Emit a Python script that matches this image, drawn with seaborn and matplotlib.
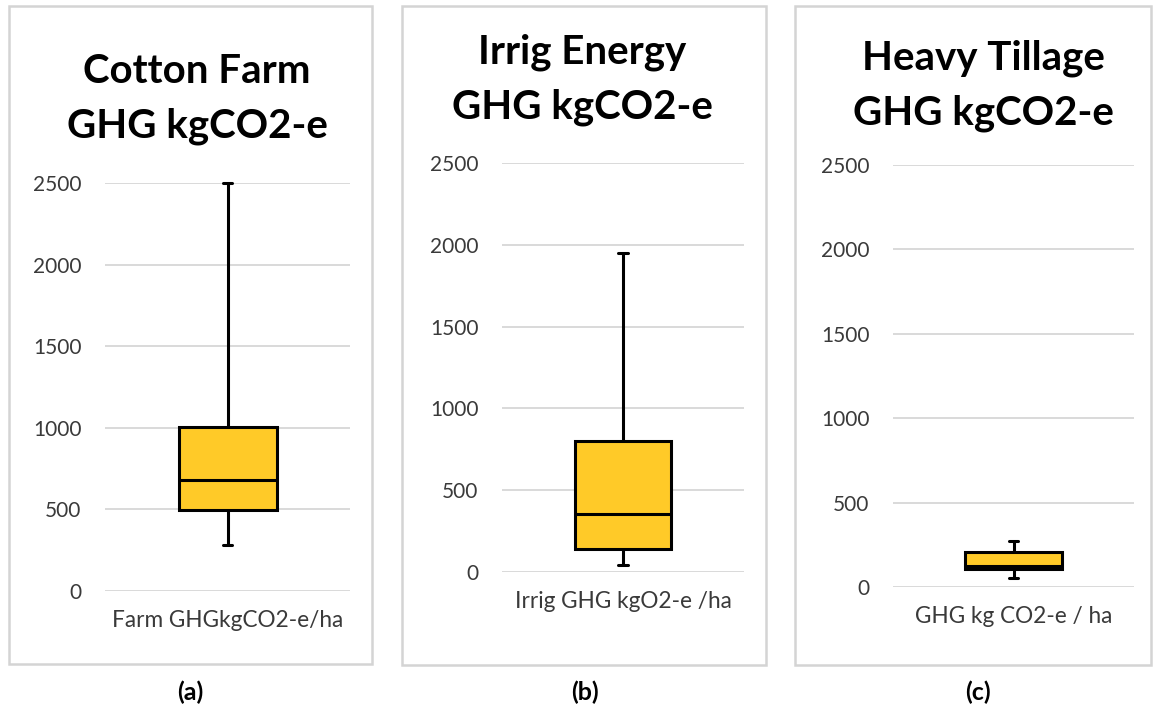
import matplotlib
matplotlib.use("Agg")
import matplotlib.pyplot as plt
import seaborn as sns
import pandas as pd
from matplotlib.patches import Rectangle

# ---- data ----
titles = ["Cotton Farm\nGHG kgCO2-e", "Irrig Energy\nGHG kgCO2-e", "Heavy Tillage\nGHG kgCO2-e"]
categories = ["Farm GHGkgCO2-e/ha", "Irrig GHG kgO2-e /ha", "GHG kg CO2-e / ha"]
tags = ["(a)", "(b)", "(c)"]
whisker_low = [280, 42, 54]
quartile1 = [495, 140, 107]
median = [680, 354, 125]
quartile3 = [1005, 800, 208]
whisker_high = [2500, 1950, 274]
y_ticks = [0, 500, 1000, 1500, 2000, 2500]

sns.set_theme(style="whitegrid")
plt.rcParams['font.family'] = ['Lato', 'DejaVu Sans']

W, H = 1153, 708
fig = plt.figure(figsize=(W / 100, H / 100), dpi=100)
fig.patch.set_facecolor("white")

# layout in pixels
axes_px = [(105, 183, 350, 591), (502, 163, 744, 572), (893, 165, 1134, 587)]
panel_px = [(9, 6, 372, 664), (402, 6, 766, 665), (795, 6, 1151, 665)]
title_px = [(197, 99), (582, 80), (983, 86)]
tag_px = [(190, 692), (585, 692), (978, 692)]

fill = "#FFCA28"
text_col = "#3a3a3a"

for i in range(3):
    l, t, r, b = panel_px[i]
    fig.add_artist(Rectangle((l / W, 1 - b / H), (r - l) / W, (b - t) / H,
                             transform=fig.transFigure, fill=False,
                             edgecolor="#d4d4d4", lw=1.8))
    l, t, r, b = axes_px[i]
    ax = fig.add_axes([l / W, 1 - b / H, (r - l) / W, (b - t) / H])
    ax.set_facecolor("none")
    df = pd.DataFrame({
        "category": [categories[i]] * 5,
        "value": [whisker_low[i], quartile1[i], median[i], quartile3[i], whisker_high[i]],
    })
    sns.boxplot(data=df, x="category", y="value", ax=ax, whis=(0, 100),
                width=0.4, color=fill, saturation=1, linecolor="black",
                linewidth=2.2, capwidths=0.04)
    for ln in ax.lines:
        ln.set_clip_on(False)
    ax.set_xlim(-0.5, 0.5)
    ax.set_ylim(0, 2500)
    ax.set_yticks(y_ticks)
    ax.set_xlabel("")
    ax.set_ylabel("")
    ax.yaxis.grid(True, color="#d9d9d9", lw=1.4)
    ax.xaxis.grid(False)
    ax.set_axisbelow(True)
    for s in ax.spines.values():
        s.set_visible(False)
    ax.tick_params(axis="y", length=0, pad=17, labelsize=15, labelcolor=text_col)
    ax.tick_params(axis="x", length=0, pad=14, labelsize=16.3, labelcolor=text_col)

    tx, ty = title_px[i]
    fig.text(tx / W, 1 - ty / H, titles[i], ha="center", va="center",
             fontsize=29, fontweight="bold", color="black", linespacing=1.58)
    gx, gy = tag_px[i]
    fig.text(gx / W, 1 - gy / H, tags[i], ha="center", va="center",
             fontsize=18, fontweight="bold", color="black")

fig.savefig("out.png", dpi=100, facecolor="white")
